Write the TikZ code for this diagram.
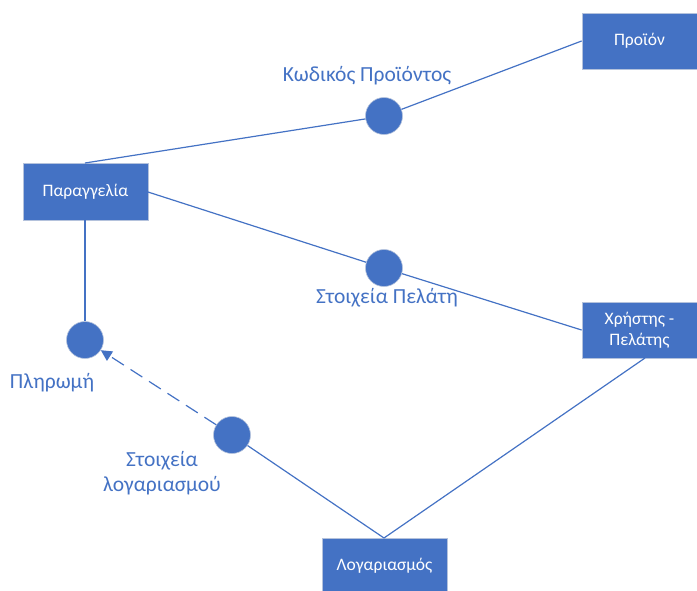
\documentclass[tikz,border=0pt]{standalone}
\usepackage{fontspec}
\setmainfont{Carlito}
\usetikzlibrary{arrows.meta}
\definecolor{blu}{HTML}{4472C4}
\definecolor{edgegray}{HTML}{B4C2DC}
\tikzset{
  ent/.style={fill=blu, draw=edgegray, line width=0.8pt, text=white, font=\fontsize{17.5}{21}\selectfont, align=center, inner sep=0pt},
  rel/.style={circle, fill=blu, draw=edgegray, line width=0.6pt, minimum size=37pt, inner sep=0pt},
  lbl/.style={text=blu, font=\fontsize{21.5}{25}\selectfont, align=center, inner sep=0pt},
  conn/.style={draw=blu, line width=1.2pt},
}
\begin{document}
\begin{tikzpicture}[x=1pt,y=-1pt]
\useasboundingbox (0,0) rectangle (697,590);
% entities
\node[ent, minimum width=125pt, minimum height=57pt] (order) at (85.5,191.5) {Παραγγελία};
\node[ent, minimum width=115pt, minimum height=56pt] (prod) at (639.5,41) {Προϊόν};
\node[ent, minimum width=115pt, minimum height=56pt] (user) at (639.5,330) {Χρήστης -\\Πελάτης};
\node[ent, minimum width=125pt, minimum height=56pt] (acct) at (384.5,566) {Λογαριασμός};
% relationships
\node[rel] (r1) at (384,116) {};
\node[rel] (r2) at (384,268) {};
\node[rel] (r3) at (85,340) {};
\node[rel] (r4) at (232,435) {};
% anchor points
\coordinate (ordtop) at (85,163);
\coordinate (ordright) at (148,192);
\coordinate (ordbot) at (85,220);
\coordinate (userbot) at (645,358);
\coordinate (accttop) at (384,538);
% connectors
\draw[conn] (ordtop) -- (r1);
\draw[conn] (r1) -- (prod.west);
\draw[conn] (ordright) -- (r2);
\draw[conn] (r2) -- (user.west);
\draw[conn] (ordbot) -- (r3);
\draw[conn] (userbot) -- (accttop);
\draw[conn] (accttop) -- (r4);
\draw[conn, dash pattern=on 14pt off 8pt, -{Triangle[length=11pt,width=11pt]}] (r4) -- (r3);
% labels
\node[lbl] (l1) at (367,76) {Κωδικός Προϊόντος};
\node[lbl] (l2) at (387,298) {Στοιχεία Πελάτη};
\node[lbl] (l3) at (52,383) {Πληρωμή};
\node[lbl] (l4) at (162,473) {Στοιχεία\\λογαριασμού};
\end{tikzpicture}
\end{document}
